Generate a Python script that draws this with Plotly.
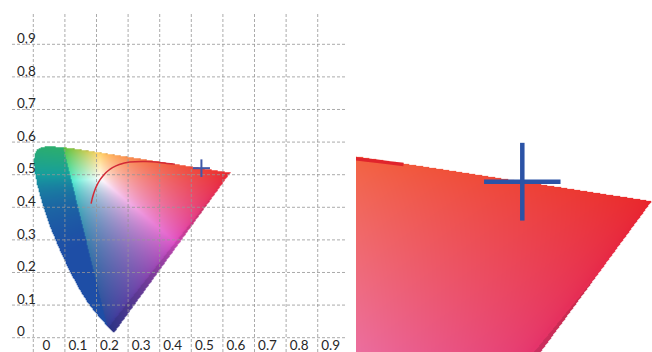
import numpy as np
import plotly.graph_objects as go

# ---------------- data ----------------
# spectral locus in CIE 1976 u'v' (380 nm -> 700 nm)
LOCUS_U = [0.2568, 0.2557, 0.2522, 0.2461, 0.2347, 0.2161, 0.1877, 0.1690, 0.1441, 0.1147,
           0.0828, 0.0521, 0.0282, 0.0119, 0.0035, 0.0014, 0.0046, 0.0123, 0.0231, 0.0360,
           0.0501, 0.0792, 0.1127, 0.1531, 0.2026, 0.2623, 0.3315, 0.4035, 0.4692, 0.5203,
           0.5565, 0.5830, 0.6109, 0.6199, 0.6234]
LOCUS_V = [0.0166, 0.0159, 0.0169, 0.0226, 0.0350, 0.0549, 0.0871, 0.1119, 0.1510, 0.2044,
           0.2708, 0.3427, 0.4117, 0.4698, 0.5131, 0.5432, 0.5638, 0.5770, 0.5837, 0.5861,
           0.5868, 0.5856, 0.5821, 0.5766, 0.5694, 0.5604, 0.5501, 0.5393, 0.5296, 0.5219,
           0.5165, 0.5125, 0.5084, 0.5070, 0.5065]

# Planckian locus (1000 K -> 25000 K)
PLANCK_U = [0.4481, 0.4060, 0.3579, 0.3051, 0.2722, 0.2505, 0.2357, 0.2251, 0.2114, 0.2004,
            0.1946, 0.1903, 0.1857, 0.1829]
PLANCK_V = [0.5319, 0.5369, 0.5405, 0.5386, 0.5311, 0.5214, 0.5113, 0.5016, 0.4847, 0.4655,
            0.4521, 0.4400, 0.4236, 0.4112]

# measured point (cross)
POINT_U = 0.532
POINT_V = 0.520

X_TICKS = [0, 0.1, 0.2, 0.3, 0.4, 0.5, 0.6, 0.7, 0.8, 0.9]
X_LABELS = ["0", "0.1", "0.2", "0.3", "0.4", "0.5", "0.6", "0.7", "0.8", "0.9"]
Y_TICKS = [0, 0.1, 0.2, 0.3, 0.4, 0.5, 0.6, 0.7, 0.8, 0.9]
Y_LABELS = ["0", "0,1", "0,2", "0,3", "0,4", "0,5", "0,6", "0,7", "0,8", "0,9"]

# ---------------- styling / layout constants ----------------
W_PX, H_PX = 652, 352
X1_RANGE = [-0.0674, 0.9927]
Y1_RANGE = [-0.0439, 0.996]
X2_RANGE = [0.532 - 166.3 / 1416, 0.532 + 129.7 / 1416]
Y2_RANGE = [0.520 - 170.3 / 1440, 0.520 + 181.7 / 1440]
CROSS_HALF = 0.027

# display primaries (u'v') used to colour the diagram, and white point (xy)
PRIMS_UV = [(0.6234, 0.5065), (0.095, 0.584), (0.2347, 0.035)]
WHITE_XY = (0.350, 0.355)
CH_EXP = np.array([1 / 1.35, 1 / 1.7, 1 / 1.25])
# colour subtracted from white when a channel is missing (R, G, B)
D_SUB = np.array([[182, 20.5, 48.5], [30, 176.5, 56.5], [-7, 44.5, 156.5]])
# colours of the region outside the display gamut (green side, middle, blue side)
OUT_GREEN = np.array([50, 178, 96])
OUT_TEAL = np.array([22, 158, 158])
OUT_BLUE = np.array([30, 78, 166])
OUT_SHIFT = 0.2


def uv_to_xy(u, v):
    d = 6 * u - 16 * v + 12
    return 9 * u / d, 4 * v / d


def rgb_from_xyz_matrix():
    cols = []
    for u, v in PRIMS_UV:
        x, y = uv_to_xy(u, v)
        cols.append([x / y, 1.0, (1 - x - y) / y])
    P = np.array(cols).T
    wx, wy = WHITE_XY
    Wv = np.array([wx / wy, 1.0, (1 - wx - wy) / wy])
    S = np.linalg.solve(P, Wv)
    return np.linalg.inv(P * S)


MINV = rgb_from_xyz_matrix()


def inside_polygon(px, py, poly_x, poly_y):
    n = len(poly_x)
    inside = np.zeros(px.shape, dtype=bool)
    j = n - 1
    for i in range(n):
        xi, yi, xj, yj = poly_x[i], poly_y[i], poly_x[j], poly_y[j]
        with np.errstate(divide="ignore", invalid="ignore"):
            xc = (xj - xi) * (py - yi) / ((yj - yi) if yj != yi else 1e-12) + xi
        cond = ((yi > py) != (yj > py)) & (px < xc)
        inside ^= cond
        j = i
    return inside


def chroma_image(u0, u1, v0, v1, du, dv):
    us = np.arange(u0, u1, du)
    vs = np.arange(v0, v1, dv)
    U, V = np.meshgrid(us, vs)
    with np.errstate(divide="ignore", invalid="ignore"):
        x, y = uv_to_xy(U, V)
        y = np.where(y <= 1e-6, 1e-6, y)
        XYZ = np.stack([x / y, np.ones_like(x), (1 - x - y) / y], axis=-1)
        lin = XYZ @ MINV.T
        mx = np.clip(lin.max(axis=-1), 1e-9, None)
        neg = np.clip(-lin.min(axis=-1), 0, None) / mx
        linc = np.clip(lin, 0, None)
        linc = linc / np.clip(linc.max(axis=-1, keepdims=True), 1e-9, None)
    linc = np.nan_to_num(linc)
    c = linc ** CH_EXP
    out = 255.0 - (1 - c) @ D_SUB
    out = np.clip(out, 0, 255)
    factor = np.where(neg > 0.002, 0.88 - 0.06 * np.clip(neg, 0, 1), 1.0)
    out = out * factor[..., None]
    # region beyond the green-blue gamut side
    rneg = (lin[..., 0] < 0) & (neg > 0.002)
    t = np.clip(linc[..., 2] - linc[..., 1] + OUT_SHIFT, -1, 1)[..., None]
    side = np.where(t < 0, OUT_TEAL + (-t) * (OUT_GREEN - OUT_TEAL),
                    OUT_TEAL + t * (OUT_BLUE - OUT_TEAL))
    out = np.where(rneg[..., None], side, out)
    mask = inside_polygon(U, V, LOCUS_U, LOCUS_V)
    rgba = np.concatenate([np.round(np.nan_to_num(out)).astype(int),
                           mask[..., None].astype(int)], axis=-1)
    return rgba.tolist(), us[0], vs[0]


fig = go.Figure()

# left panel diagram fill
du1, dv1 = 1 / 316, 1 / 326
z1, ux1, vy1 = chroma_image(-0.01, 0.635, 0.0, 0.6, du1, dv1)
fig.add_trace(go.Image(z=z1, colormodel="rgba", x0=ux1, dx=du1, y0=vy1, dy=dv1,
                       zsmooth="fast", hoverinfo="skip", xaxis="x", yaxis="y"))

# right panel (zoom) fill
du2, dv2 = 1 / 1416, 1 / 1440
z2, ux2, vy2 = chroma_image(X2_RANGE[0] - 0.003, X2_RANGE[1] + 0.003,
                            Y2_RANGE[0] - 0.003, 0.55, du2, dv2)
fig.add_trace(go.Image(z=z2, colormodel="rgba", x0=ux2, dx=du2, y0=vy2, dy=dv2,
                       zsmooth="fast", hoverinfo="skip", xaxis="x2", yaxis="y2"))

# dashed grid drawn above the fill
gx, gy = [], []
for t in X_TICKS:
    gx += [t, t, None]
    gy += [Y1_RANGE[0], Y1_RANGE[1], None]
for t in Y_TICKS:
    gx += [X1_RANGE[0], X1_RANGE[1], None]
    gy += [t, t, None]
fig.add_trace(go.Scatter(x=gx, y=gy, mode="lines", hoverinfo="skip", showlegend=False,
                         line=dict(color="rgba(150,150,150,0.8)", width=1, dash="3px,2px"),
                         xaxis="x", yaxis="y"))

# Planckian locus
fig.add_trace(go.Scatter(x=PLANCK_U, y=PLANCK_V, mode="lines", showlegend=False,
                         line=dict(color="#d22a36", width=1.5, shape="spline"),
                         xaxis="x", yaxis="y"))
fig.add_trace(go.Scatter(x=PLANCK_U, y=PLANCK_V, mode="lines", showlegend=False,
                         line=dict(color="#e0242c", width=3.5, shape="spline"),
                         xaxis="x2", yaxis="y2"))


def cross_xy(cu, cv, h):
    return [cu - h, cu + h, None, cu, cu], [cv, cv, None, cv - h, cv + h]


cx, cy = cross_xy(POINT_U, POINT_V, CROSS_HALF)
fig.add_trace(go.Scatter(x=cx, y=cy, mode="lines", showlegend=False,
                         line=dict(color="#4058a8", width=2), xaxis="x", yaxis="y"))
fig.add_trace(go.Scatter(x=cx, y=cy, mode="lines", showlegend=False,
                         line=dict(color="#2b53a6", width=4.5), xaxis="x2", yaxis="y2"))

tickfont = dict(family="Lato", size=13.5, color="#262626")
fig.update_layout(
    width=W_PX, height=H_PX,
    margin=dict(l=0, r=0, t=0, b=0),
    paper_bgcolor="white", plot_bgcolor="white",
    showlegend=False,
    xaxis=dict(domain=[12 / W_PX, 347 / W_PX], range=X1_RANGE, autorange=False,
               tickmode="array", tickvals=X_TICKS, ticktext=X_LABELS,
               showgrid=False, zeroline=False, showline=False, ticks="",
               ticklabelposition="inside", ticklabelshift=13, ticklabelstandoff=-4,
               ticklabeloverflow="allow", tickfont=tickfont),
    yaxis=dict(domain=[0, 339 / H_PX], range=Y1_RANGE, autorange=False,
               tickmode="array", tickvals=Y_TICKS, ticktext=Y_LABELS,
               showgrid=False, zeroline=False, showline=False, ticks="",
               ticklabelposition="inside", ticklabelshift=-6, ticklabelstandoff=2,
               ticklabeloverflow="allow", tickfont=tickfont, scaleanchor=False),
    xaxis2=dict(domain=[356 / W_PX, 1], range=X2_RANGE, autorange=False, visible=False),
    yaxis2=dict(domain=[0, 1], range=Y2_RANGE, autorange=False, visible=False,
                anchor="x2", scaleanchor=False),
)
fig.update_layout(xaxis2_anchor="y2")

fig.write_html(
    "out.html",
    config={"displayModeBar": False},
    post_script="document.body.style.margin='0px';document.body.style.overflow='hidden';",
)
